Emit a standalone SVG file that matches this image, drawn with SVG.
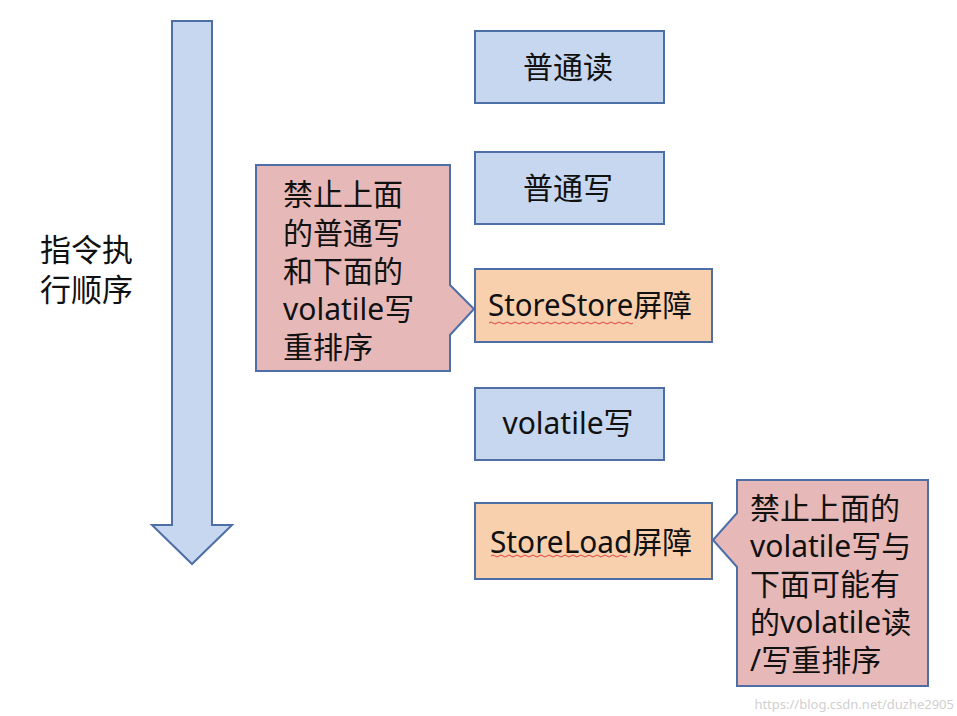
<svg xmlns="http://www.w3.org/2000/svg" width="957" height="716" viewBox="0 0 957 716">
<style>
text{font-family:"Noto Sans","Noto Sans CJK SC",sans-serif;font-size:30px;fill:#111}
.c{text-anchor:middle}
.big{font-size:31px}
.blue{fill:#c6d7ef;stroke:#4e6ea6;stroke-width:2}
.orange{fill:#f8d0ae;stroke:#4e6ea6;stroke-width:2}
.pink{fill:#e6b9b8;stroke:#4e6ea6;stroke-width:2}
.wave{fill:none;stroke:#e04040;stroke-width:1}
.wm{font-size:13px;fill:#d0d0d0;text-anchor:end}
</style>
<rect width="957" height="716" fill="#fff"/>
<g id="order-arrow">
<path class="blue" d="M172,21 H212 V525 H232 L192,564 L152,525 H172 Z"/>
</g>
<g id="order-label">
<text class="big" x="40" y="261">指令执</text>
<text class="big" x="40" y="301">行顺序</text>
</g>
<g id="node-read">
<rect class="blue" x="475" y="31" width="189" height="72"/>
<text class="c" x="568" y="78">普通读</text>
</g>
<g id="node-write">
<rect class="blue" x="475" y="152" width="189" height="72"/>
<text class="c" x="568" y="199">普通写</text>
</g>
<g id="node-storestore">
<rect class="orange" x="475" y="269" width="237" height="73"/>
<text x="488" y="316" textLength="204" lengthAdjust="spacingAndGlyphs">StoreStore屏障</text>
<path class="wave" d="M489,323 q2,-2 4,0 t4,0 t4,0 t4,0 t4,0 t4,0 t4,0 t4,0 t4,0 t4,0 t4,0 t4,0 t4,0 t4,0 t4,0 t4,0 t4,0 t4,0 t4,0 t4,0 t4,0 t4,0 t4,0 t4,0 t4,0 t4,0 t4,0 t4,0 t4,0 t4,0 t4,0 t4,0 t4,0 t4,0 t4,0 t4,0"/>
</g>
<g id="node-volatile-write">
<rect class="blue" x="475" y="388" width="189" height="72"/>
<text class="c" x="568" y="434">volatile写</text>
</g>
<g id="node-storeload">
<rect class="orange" x="475" y="503" width="237" height="76"/>
<text x="490" y="553" textLength="202" lengthAdjust="spacingAndGlyphs">StoreLoad屏障</text>
<path class="wave" d="M491,556 q2,-2 4,0 t4,0 t4,0 t4,0 t4,0 t4,0 t4,0 t4,0 t4,0 t4,0 t4,0 t4,0 t4,0 t4,0 t4,0 t4,0 t4,0 t4,0 t4,0 t4,0 t4,0 t4,0 t4,0 t4,0 t4,0 t4,0 t4,0 t4,0 t4,0 t4,0 t4,0 t4,0 t4,0 t4,0"/>
</g>
<g id="callout-storestore">
<path class="pink" d="M256,165 H450 V285 L474,309 L450,335 V371 H256 Z"/>
<text x="283" y="205">禁止上面</text>
<text x="283" y="244">的普通写</text>
<text x="283" y="282">和下面的</text>
<text x="283" y="320">volatile写</text>
<text x="283" y="358">重排序</text>
</g>
<g id="callout-storeload">
<path class="pink" d="M737,480 H928 V686 H737 V567 L713,540 L737,513 Z"/>
<text x="750" y="519">禁止上面的</text>
<text x="750" y="557">volatile写与</text>
<text x="750" y="595">下面可能有</text>
<text x="750" y="633">的volatile读</text>
<text x="750" y="671">/写重排序</text>
</g>
<g id="connectors"></g>
<text class="wm" x="954" y="709">https://blog.csdn.net/duzhe2905</text>
</svg>
